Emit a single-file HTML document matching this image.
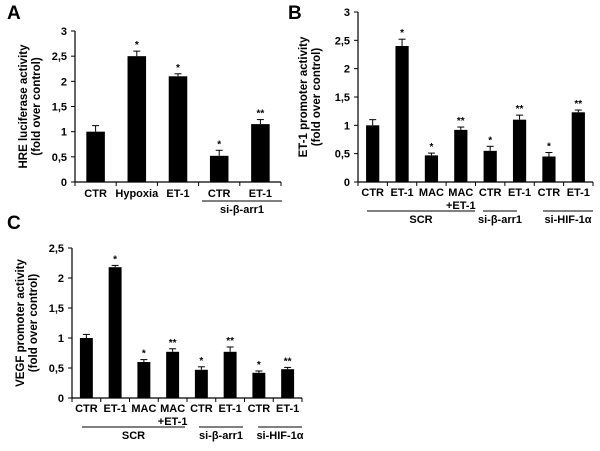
<!DOCTYPE html>
<html><head><meta charset="utf-8"><style>
body{margin:0;background:#fff}
svg{display:block;font-family:"Liberation Sans",Arial,sans-serif;font-weight:bold}
</style></head><body>
<svg id="fig" width="600" height="451" viewBox="0 0 600 451" xmlns="http://www.w3.org/2000/svg">
<text x="7" y="19" font-size="19">A</text>
<text x="288" y="19" font-size="19">B</text>
<text x="7" y="229" font-size="19">C</text>
</svg>
<script>
const aCats=["CTR","Hypoxia","ET-1","CTR","ET-1"];
const aVals=[1.0,2.5,2.1,0.52,1.15];
const aErrs=[0.12,0.1,0.05,0.11,0.09];
const aStars=["","*","*","*","**"];
const aTicks=["0","0,5","1","1,5","2","2,5","3"];
const bCats=["CTR","ET-1","MAC","MAC","CTR","ET-1","CTR","ET-1"];
const bVals=[1.0,2.4,0.47,0.92,0.55,1.1,0.45,1.23];
const bErrs=[0.1,0.12,0.04,0.05,0.08,0.08,0.07,0.04];
const bStars=["","*","*","**","*","**","*","**"];
const bTicks=["0","0,5","1","1,5","2","2,5","3"];
const cCats=["CTR","ET-1","MAC","MAC","CTR","ET-1","CTR","ET-1"];
const cVals=[1.0,2.18,0.6,0.77,0.47,0.77,0.42,0.48];
const cErrs=[0.06,0.03,0.04,0.05,0.05,0.08,0.03,0.03];
const cStars=["","*","*","**","*","**","*","**"];
const cTicks=["0","0,5","1","1,5","2","2,5"];
const NS="http://www.w3.org/2000/svg";
const svg=document.getElementById('fig');
function mk(t,a,txt){const e=document.createElementNS(NS,t);for(const k in a)e.setAttribute(k,a[k]);if(txt!==undefined)e.textContent=txt;svg.appendChild(e);return e;}
function panel(p,o){
  const {x0,x1,y0,yTop,vmax,cats,vals,errs,stars,ticks,groups,yl,ylx,labY}=o;
  const n=cats.length,w=(x1-x0)/n;
  const ys=v=>y0-(v/vmax)*(y0-yTop);
  const xs=i=>x0+w*(i+0.5);
  let e=mk('line',{x1:x0,y1:yTop,x2:x0,y2:y0,stroke:'#000','stroke-width':1.2});
  
  
  e=mk('line',{x1:x0,y1:y0,x2:x1,y2:y0,stroke:'#000','stroke-width':1.2});
  
  
  ticks.forEach((t,i)=>{const v=i*0.5;const y=ys(v);
    mk('line',{x1:x0-4,y1:y,x2:x0,y2:y,stroke:'#000'});
    e=mk('text',{x:x0-8,y:y+4,'font-size':11,'text-anchor':'end'},t);
    
    
  });
  for(let i=0;i<=n;i++)mk('line',{x1:x0+w*i,y1:y0,x2:x0+w*i,y2:y0+4,stroke:'#000'});
  cats.forEach((c,i)=>{
    const bw=w*0.45,cx=xs(i),yt=ys(vals[i]),ye=ys(vals[i]+errs[i]);
    mk('line',{x1:cx,y1:yt,x2:cx,y2:ye,stroke:'#000','stroke-width':1});
    mk('line',{x1:cx-3.5,y1:ye,x2:cx+3.5,y2:ye,stroke:'#000','stroke-width':1});
    e=mk('rect',{x:cx-bw/2,y:yt,width:bw,height:y0-yt,fill:'#000'});
    
    
    if(stars[i]){e=mk('text',{x:cx,y:ye-3,'font-size':10,'text-anchor':'middle'},stars[i]);
      
      }
    e=mk('text',{x:cx,y:labY,'font-size':11,'text-anchor':'middle'},c);
    
    
    if(c==="MAC"&&i===3){e=mk('text',{x:cx,y:labY+13,'font-size':11,'text-anchor':'middle'},"+ET-1");
      
      }
  });
  (groups||[]).forEach(g=>{
    mk('line',{x1:g.a,y1:g.ly,x2:g.b,y2:g.ly,stroke:'#000','stroke-width':1});
    e=mk('text',{x:(g.a+g.b)/2,y:g.ly+12,'font-size':11,'text-anchor':'middle'},g.t);
    
    
  });
  const cy=(y0+yTop)/2;
  yl.forEach((l,k)=>{e=mk('text',{x:0,y:0,'font-size':11.5,'text-anchor':'middle',transform:`translate(${ylx+k*13},${cy}) rotate(-90)`},l);
    
    });
}
panel('a',{x0:75,x1:281,y0:182,yTop:31,vmax:3,cats:aCats,vals:aVals,errs:aErrs,stars:aStars,ticks:aTicks,labY:197,
  groups:[{a:202,b:282,ly:201,t:"si-β-arr1"}],yl:["HRE luciferase activity","(fold over control)"],ylx:27});
panel('b',{x0:358,x1:593,y0:182,yTop:12,vmax:3,cats:bCats,vals:bVals,errs:bErrs,stars:bStars,ticks:bTicks,labY:196,
  groups:[{a:367,b:475,ly:211,t:"SCR"},{a:483,b:517,ly:211,t:"si-β-arr1"},{a:543,b:593,ly:211,t:"si-HIF-1α"}],yl:["ET-1 promoter activity","(fold over control)"],ylx:307});
panel('c',{x0:72,x1:302,y0:398,yTop:248,vmax:2.5,cats:cCats,vals:cVals,errs:cErrs,stars:cStars,ticks:cTicks,labY:412,
  groups:[{a:82,b:185,ly:427,t:"SCR"},{a:199,b:243,ly:427,t:"si-β-arr1"},{a:258,b:302,ly:427,t:"si-HIF-1α"}],yl:["VEGF promoter activity","(fold over control)"],ylx:24});
</script>
</body></html>
